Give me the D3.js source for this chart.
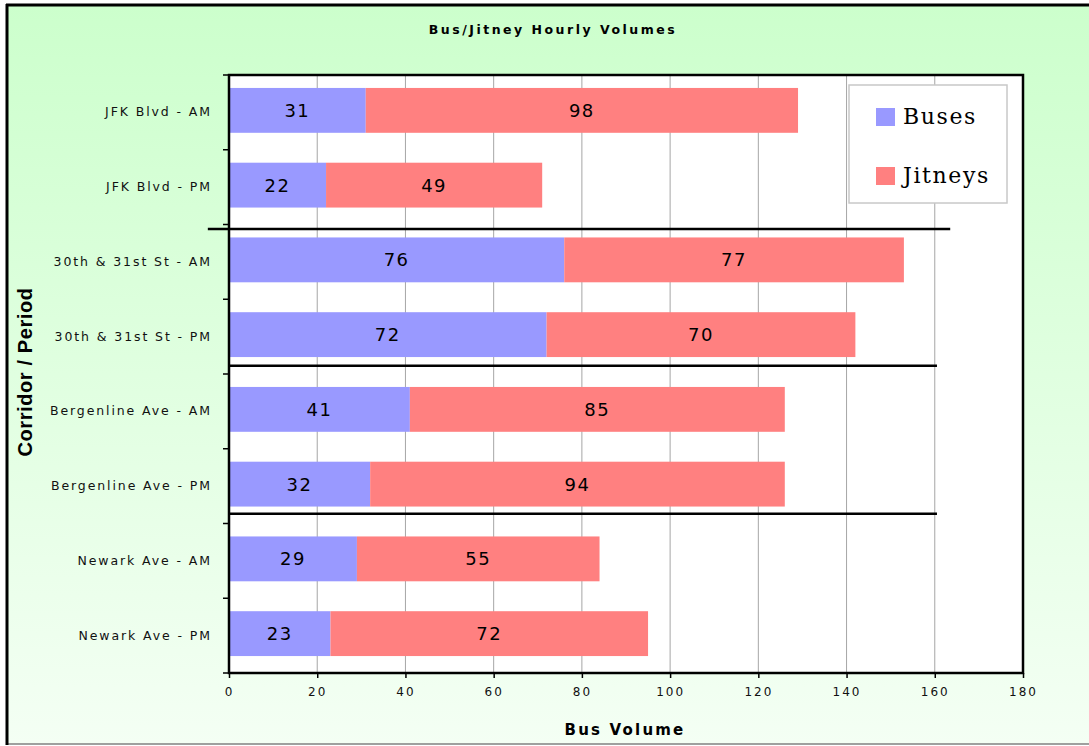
<!DOCTYPE html>
<html>
<head>
<meta charset="utf-8">
<script src="https://cdn.jsdelivr.net/npm/d3@7"></script>
<style>
  html, body { margin: 0; padding: 0; background: #ffffff; }
  svg { display: block; }
</style>
</head>
<body>
<script>
'use strict';

// chart values
const corridors = [
  "JFK Blvd - AM", "JFK Blvd - PM",
  "30th & 31st St - AM", "30th & 31st St - PM",
  "Bergenline Ave - AM", "Bergenline Ave - PM",
  "Newark Ave - AM", "Newark Ave - PM"
];
const buses = [31, 22, 76, 72, 41, 32, 29, 23];
const jitneys = [98, 49, 77, 70, 85, 94, 55, 72];
const seriesNames = ["Buses", "Jitneys"];
const xTicks = [0, 20, 40, 60, 80, 100, 120, 140, 160, 180];

// group divider lines (band position from top, value range)
const dividers = [
  { pos: 2.06, from: -4.8, to: 163.5 },
  { pos: 3.89, from: 0, to: 160.5 },
  { pos: 5.87, from: 0, to: 160.5 }
];

(function() {

  let svgContainer = "";

  window.onload = function() {
    svgContainer = d3.select('body')
      .append('svg')
      .attr('width', 1089)
      .attr('height', 746);

    drawBackground();
    let maps = drawAxes();
    plotBars(maps);
    drawDividers(maps);
    makeLegend();
    makeLabels();
  }

  // light green gradient plus outer frame
  function drawBackground() {
    let grad = svgContainer.append('defs')
      .append('linearGradient')
      .attr('id', 'bg')
      .attr('x1', 0).attr('y1', 0)
      .attr('x2', 0).attr('y2', 1);
    grad.append('stop').attr('offset', '0%').attr('stop-color', '#ccffcc');
    grad.append('stop').attr('offset', '100%').attr('stop-color', '#f4fff4');

    svgContainer.append('rect')
      .attr('x', 7).attr('y', 5)
      .attr('width', 1100).attr('height', 739)
      .attr('fill', 'url(#bg)');

    svgContainer.append('line')
      .attr('x1', 7).attr('x2', 1089)
      .attr('y1', 744).attr('y2', 744)
      .attr('stroke', '#808080').attr('stroke-width', 1.5);
    svgContainer.append('line')
      .attr('x1', 6).attr('x2', 1089)
      .attr('y1', 5).attr('y2', 5)
      .attr('stroke', '#000').attr('stroke-width', 3);
    svgContainer.append('line')
      .attr('x1', 7).attr('x2', 7)
      .attr('y1', 4).attr('y2', 745)
      .attr('stroke', '#000').attr('stroke-width', 3);
  }

  // plot area, grid lines, ticks
  function drawAxes() {
    let xScale = d3.scaleLinear()
      .domain([0, 180])
      .range([229, 1023]);

    let yScale = d3.scaleBand()
      .domain(corridors)
      .range([75, 673])
      .paddingInner(0.4)
      .paddingOuter(0.2);

    // white plot area
    svgContainer.append('rect')
      .attr('x', 229).attr('y', 75)
      .attr('width', 1023 - 229).attr('height', 673 - 75)
      .attr('fill', '#fff');

    // vertical grid lines
    svgContainer.append('g')
      .selectAll('line')
      .data(xTicks.filter((d) => d > 0 && d < 180))
      .enter()
      .append('line')
        .attr('x1', (d) => xScale(d))
        .attr('x2', (d) => xScale(d))
        .attr('y1', 75)
        .attr('y2', 673)
        .attr('stroke', '#a6a6a6')
        .attr('stroke-width', 1);

    // x axis at the bottom
    let xAxis = d3.axisBottom(xScale)
      .tickValues(xTicks)
      .tickSize(5)
      .tickPadding(9)
      .tickSizeOuter(0);
    let gx = svgContainer.append('g')
      .attr('transform', 'translate(0, 673)')
      .call(xAxis);
    gx.select('.domain').remove();
    gx.selectAll('line').attr('stroke', '#000').attr('stroke-width', 1.5);
    gx.selectAll('text')
      .attr('fill', '#111')
      .style('font-family', 'DejaVu Sans, Verdana, sans-serif')
      .style('font-size', '12px')
      .style('letter-spacing', '2px');

    // y axis: ticks at category boundaries
    let edges = d3.range(corridors.length + 1).map((i) => 75 + i * yScale.step());
    svgContainer.append('g')
      .selectAll('line')
      .data(edges)
      .enter()
      .append('line')
        .attr('x1', 223).attr('x2', 229)
        .attr('y1', (d) => d).attr('y2', (d) => d)
        .attr('stroke', '#000')
        .attr('stroke-width', 1.5);

    let yAxis = d3.axisLeft(yScale).tickSize(0).tickPadding(17);
    let gy = svgContainer.append('g')
      .attr('transform', 'translate(229, 0)')
      .call(yAxis);
    gy.select('.domain').remove();
    gy.selectAll('text')
      .attr('fill', '#111')
      .style('font-family', 'DejaVu Sans, Verdana, sans-serif')
      .style('font-size', '12.5px')
      .style('letter-spacing', '1.9px');

    return { x: xScale, y: yScale };
  }

  // stacked bars with value labels
  function plotBars(map) {
    let xScale = map.x;
    let yScale = map.y;
    let rows = corridors.map((c, i) => ({ name: c, Buses: buses[i], Jitneys: jitneys[i] }));
    let stacked = d3.stack().keys(seriesNames)(rows);
    let colors = d3.scaleOrdinal().domain(seriesNames).range(['#9999ff', '#ff8080']);

    let layers = svgContainer.append('g')
      .selectAll('g')
      .data(stacked)
      .enter()
      .append('g')
        .attr('fill', (d) => colors(d.key));

    layers.selectAll('rect')
      .data((d) => d)
      .enter()
      .append('rect')
        .attr('x', (d) => xScale(d[0]))
        .attr('y', (d) => yScale(d.data.name) - 2)
        .attr('width', (d) => xScale(d[1]) - xScale(d[0]))
        .attr('height', yScale.bandwidth());

    layers.selectAll('text')
      .data((d) => d)
      .enter()
      .append('text')
        .attr('x', (d) => (xScale(d[0]) + xScale(d[1])) / 2)
        .attr('y', (d) => yScale(d.data.name) - 2 + yScale.bandwidth() / 2)
        .attr('dy', '0.36em')
        .attr('text-anchor', 'middle')
        .attr('fill', '#000')
        .style('font-family', 'DejaVu Sans, Verdana, sans-serif')
        .style('font-size', '18px')
        .style('letter-spacing', '1.5px')
        .text((d) => d[1] - d[0]);

    // plot frame
    svgContainer.append('rect')
      .attr('x', 229).attr('y', 75)
      .attr('width', 1023 - 229).attr('height', 673 - 75)
      .attr('fill', 'none')
      .attr('stroke', '#000')
      .attr('stroke-width', 2.5);
  }

  // hand drawn group dividers
  function drawDividers(map) {
    svgContainer.append('g')
      .selectAll('line')
      .data(dividers)
      .enter()
      .append('line')
        .attr('x1', (d) => map.x(d.from))
        .attr('x2', (d) => map.x(d.to))
        .attr('y1', (d) => 75 + d.pos * map.y.step())
        .attr('y2', (d) => 75 + d.pos * map.y.step())
        .attr('stroke', '#000')
        .attr('stroke-width', 2.5);
  }

  function makeLegend() {
    let colors = ['#9999ff', '#ff8080'];
    svgContainer.append('rect')
      .attr('x', 849).attr('y', 85)
      .attr('width', 158).attr('height', 118)
      .attr('fill', '#fff')
      .attr('stroke', '#c8c8c8')
      .attr('stroke-width', 1.5);

    let items = svgContainer.append('g')
      .selectAll('g')
      .data(seriesNames)
      .enter()
      .append('g')
        .attr('transform', (d, i) => 'translate(876,' + (108 + i * 59) + ')');

    items.append('rect')
      .attr('width', 19).attr('height', 18)
      .attr('fill', (d, i) => colors[i]);

    items.append('text')
      .attr('x', 27)
      .attr('y', 16)
      .style('font-family', 'DejaVu Serif, Liberation Serif, serif')
      .style('font-size', '22px')
      .style('letter-spacing', '1.6px')
      .attr('fill', '#000')
      .text((d) => d);
  }

  function makeLabels() {
    svgContainer.append('text')
      .attr('x', 553)
      .attr('y', 34)
      .attr('text-anchor', 'middle')
      .style('font-family', 'DejaVu Sans, Verdana, sans-serif')
      .style('font-weight', 'bold')
      .style('font-size', '12.5px')
      .style('letter-spacing', '2.5px')
      .text("Bus/Jitney Hourly Volumes");

    svgContainer.append('text')
      .attr('x', 625)
      .attr('y', 735)
      .attr('text-anchor', 'middle')
      .style('font-family', 'DejaVu Sans, Verdana, sans-serif')
      .style('font-weight', 'bold')
      .style('font-size', '15px')
      .style('letter-spacing', '2.2px')
      .text('Bus Volume');

    svgContainer.append('text')
      .attr('transform', 'translate(32, 372)rotate(-90)')
      .attr('text-anchor', 'middle')
      .style('font-family', 'Liberation Sans, Arial, sans-serif')
      .style('font-weight', 'bold')
      .style('font-size', '20px')
      .style('letter-spacing', '0.6px')
      .text('Corridor / Period');
  }

})();
</script>
</body>
</html>
